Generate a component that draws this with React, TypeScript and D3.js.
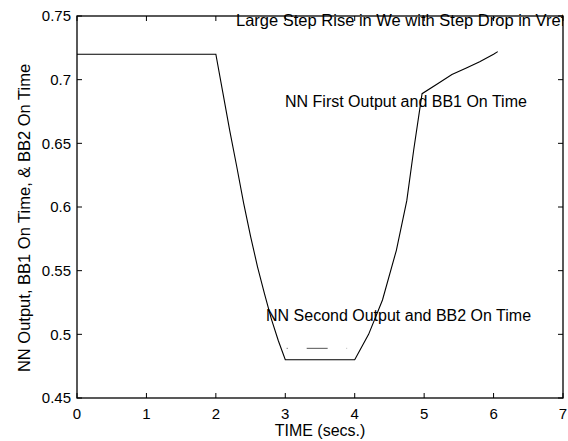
import { useEffect, useRef } from "react"
import * as d3 from "d3"

// NN first output (BB1 on time)
const times = [0, 1, 2, 2.1, 2.2, 2.3, 2.4, 2.5, 2.6, 2.7, 2.8, 2.9, 3, 3.5, 4, 4.2, 4.4, 4.6, 4.75, 4.85, 4.97, 5.2, 5.4, 5.6, 5.8, 6, 6.06]
const output = [0.72, 0.72, 0.72, 0.69, 0.66, 0.632, 0.603, 0.577, 0.553, 0.532, 0.512, 0.495, 0.48, 0.48, 0.48, 0.5, 0.527, 0.566, 0.605, 0.645, 0.689, 0.697, 0.704, 0.709, 0.714, 0.72, 0.722]

// faint second output trace
const secondTimes = [3.02, 3.31, 3.61, 3.89]
const secondValues = [0.489, 0.489, 0.489, 0.489]

const xTicks = [0, 1, 2, 3, 4, 5, 6, 7]
const yTicks = [0.45, 0.5, 0.55, 0.6, 0.65, 0.7, 0.75]

const title = "Large Step Rise in We with Step Drop in Vref"
const firstLabel = "NN First Output and BB1 On Time"
const secondLabel = "NN Second Output and BB2 On Time"
const xTitle = "TIME (secs.)"
const yTitle = "NN Output, BB1 On Time, & BB2 On Time"

const App = () => {
  const svgRef = useRef<SVGSVGElement>(null)

  useEffect(() => {
    const svg = d3.select(svgRef.current)
    svg.selectAll("*").remove()

    const width = 568
    const height = 441
    const margin = { top: 16, right: 5, bottom: 43, left: 77 }
    const font = "Liberation Sans, Arial, sans-serif"

    svg.attr("width", width).attr("height", height)
    svg.append("rect").attr("width", width).attr("height", height).attr("fill", "#fff")

    const x = d3.scaleLinear().domain([0, 7]).range([margin.left, width - margin.right])
    const y = d3.scaleLinear().domain([0.45, 0.75]).range([height - margin.bottom, margin.top])

    svg.append("clipPath").attr("id", "plot-clip")
      .append("rect")
      .attr("x", margin.left)
      .attr("y", 0)
      .attr("width", width - margin.left - margin.right)
      .attr("height", height)

    const g = svg.append("g").style("font-family", font)

    // frame
    g.append("rect")
      .attr("x", x(0))
      .attr("y", y(0.75))
      .attr("width", x(7) - x(0))
      .attr("height", y(0.45) - y(0.75))
      .attr("fill", "none")
      .attr("stroke", "#000")
      .attr("stroke-width", 1.3)

    const tick = 5
    xTicks.forEach((t) => {
      g.append("line").attr("x1", x(t)).attr("x2", x(t)).attr("y1", y(0.45)).attr("y2", y(0.45) - tick).attr("stroke", "#000")
      g.append("line").attr("x1", x(t)).attr("x2", x(t)).attr("y1", y(0.75)).attr("y2", y(0.75) + tick).attr("stroke", "#000")
      g.append("text")
        .attr("x", x(t))
        .attr("y", y(0.45) + 21)
        .attr("text-anchor", "middle")
        .style("font-size", "15px")
        .text(t)
    })
    yTicks.forEach((v) => {
      g.append("line").attr("x1", x(0)).attr("x2", x(0) + tick).attr("y1", y(v)).attr("y2", y(v)).attr("stroke", "#000")
      g.append("line").attr("x1", x(7)).attr("x2", x(7) - tick).attr("y1", y(v)).attr("y2", y(v)).attr("stroke", "#000")
      g.append("text")
        .attr("x", x(0) - 6)
        .attr("y", y(v))
        .attr("dy", "0.35em")
        .attr("text-anchor", "end")
        .style("font-size", "15px")
        .text(d3.format("")(v))
    })

    const line = d3.line<number>()
      .x((d, i) => x(times[i]))
      .y((d) => y(d))

    g.append("path")
      .attr("d", line(output))
      .attr("fill", "none")
      .attr("stroke", "#000")
      .attr("stroke-width", 1.1)

    const line2 = d3.line<number>()
      .x((d, i) => x(secondTimes[i]))
      .y((d) => y(d))

    g.append("path")
      .attr("d", line2(secondValues))
      .attr("fill", "none")
      .attr("stroke", "#555")
      .attr("stroke-width", 1)
      .attr("stroke-dasharray", "1,19,21,19,1")

    g.append("text")
      .attr("x", 236)
      .attr("y", 26)
      .attr("clip-path", "url(#plot-clip)")
      .style("font-size", "16.5px")
      .text(title)

    g.append("text")
      .attr("x", 285)
      .attr("y", 107)
      .style("font-size", "16px")
      .text(firstLabel)

    g.append("text")
      .attr("x", 266)
      .attr("y", 321)
      .style("font-size", "16px")
      .text(secondLabel)

    g.append("text")
      .attr("x", 320)
      .attr("y", 436)
      .attr("text-anchor", "middle")
      .style("font-size", "16px")
      .text(xTitle)

    g.append("text")
      .attr("transform", `translate(30, 218) rotate(-90)`)
      .attr("text-anchor", "middle")
      .style("font-size", "16.5px")
      .text(yTitle)
  }, [])

  return (
    <div style={{ position: "absolute", left: 0, top: 0 }}>
      <svg ref={svgRef}></svg>
    </div>
  )
}

export default App
